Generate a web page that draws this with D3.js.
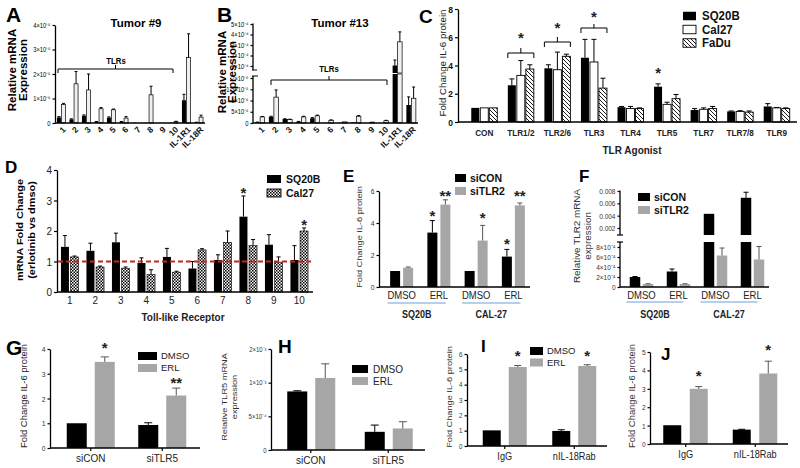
<!DOCTYPE html>
<html><head><meta charset="utf-8">
<script src="https://cdn.jsdelivr.net/npm/d3@7"></script>
<style>body{margin:0;background:#fff}svg{display:block}</style>
</head><body><svg id="c" width="800" height="468"></svg>
<script>
// ---------------- DATA ----------------
const tlrCats = ["1","2","3","4","5","6","7","8","9","10","IL-1R1","IL-18R"];
const aTicks = [0,1e-5,2e-5,3e-5,4e-5];
const aTickLabels = ["0","1×10⁻⁵","2×10⁻⁵","3×10⁻⁵","4×10⁻⁵"];
const aBlack    = [2.3e-6,1.5e-6,3.0e-6,0.5e-6,2.2e-6,0.5e-6,0.1e-6,0.1e-6,0,0.1e-6,9.3e-6,0.2e-6];
const aBlackErr = [0.3e-6,0.2e-6,0.3e-6,0.1e-6,0.3e-6,0.1e-6,0,0,0,0,2.4e-6,0.1e-6];
const aWhite    = [7.5e-6,1.6e-5,1.35e-5,5.8e-6,5.4e-6,2.0e-6,0,1.15e-5,0,0.5e-6,2.67e-5,2.4e-6];
const aWhiteErr = [0.5e-6,5e-6,6.5e-6,0.5e-6,0.3e-6,0.6e-6,0,3.5e-6,0,0.2e-6,9.7e-6,0.8e-6];

const bLowTicks = [0,5e-6,1e-5,1.5e-5,2e-5];
const bLowLabels = ["0","5×10⁻⁶","1×10⁻⁵","1.5×10⁻⁵","2×10⁻⁵"];
const bHighTicks = [1e-4,2e-4,3e-4,4e-4,5e-4];
const bHighLabels = ["1×10⁻⁴","2×10⁻⁴","3×10⁻⁴","4×10⁻⁴","5×10⁻⁴"];
const bBlack    = [0.3e-6,2.8e-6,1.8e-6,0.6e-6,2.1e-6,0.1e-6,0.1e-6,0.3e-6,0,0,1.05e-4,8e-6];
const bBlackErr = [0.1e-6,0.2e-6,0.1e-6,0.1e-6,0.3e-6,0,0,0,0,0,0.52e-4,3.6e-6];
const bWhite    = [2.7e-6,1.15e-5,1.5e-6,2.7e-6,3.2e-6,1.2e-6,0.5e-6,3.0e-6,0.4e-6,1.0e-6,3.3e-4,1.1e-5];
const bWhiteErr = [0.2e-6,3.2e-6,0.2e-6,0.3e-6,0.3e-6,0.2e-6,0,0.3e-6,0,0.2e-6,0.95e-4,5e-6];

const cCats = ["CON","TLR1/2","TLR2/6","TLR3","TLR4","TLR5","TLR7","TLR7/8","TLR9"];
const cTicks = [0,2,4,6,8];
const cSQ20B    = [1,2.6,3.8,4.55,1.05,2.5,0.85,0.75,1.1];
const cSQ20BErr = [0,0.45,0.25,1.3,0.05,0.2,0.1,0.03,0.2];
const cCal27    = [1,3.3,3.7,4.25,0.95,1.25,0.9,0.75,1.0];
const cCal27Err = [0,1.05,1.25,1.6,0.15,0.15,0.1,0.05,0.03];
const cFaDu     = [1,3.75,4.65,2.4,0.95,1.65,0.95,0.7,0.95];
const cFaDuErr  = [0,0.3,0.15,0.7,0.05,0.3,0.15,0.08,0.05];

const dCats = ["1","2","3","4","5","6","7","8","9","10"];
const dTicks = [0,1,2,3,4];
const dSQ20B    = [1.48,1.35,1.63,0.95,1.15,0.77,1.05,2.47,1.55,1.05];
const dSQ20BErr = [0.37,0.25,0.3,0.17,0.28,0.23,0.17,0.68,0.33,0.47];
const dCal27    = [1.15,0.82,0.78,0.57,0.65,1.38,1.63,1.52,0.98,2.0];
const dCal27Err = [0.03,0.03,0.04,0.16,0.03,0.04,0.37,0.2,0.17,0.1];

const eCats = ["DMSO","ERL","DMSO","ERL"];
const eGroups = ["SQ20B","CAL-27"];
const eTicks = [0,2,4,6];
const eSiCON     = [1,3.4,1,1.9];
const eSiCONErr  = [0,0.75,0,0.45];
const eSiTLR2    = [1.2,5.15,2.9,5.1];
const eSiTLR2Err = [0.05,0.3,0.95,0.15];

const fCats = ["DMSO","ERL","DMSO","ERL"];
const fGroups = ["SQ20B","CAL-27"];
const fLowTicks = [0,2e-4,4e-4,6e-4,8e-4];
const fLowLabels = ["0","2×10⁻⁴","4×10⁻⁴","6×10⁻⁴","8×10⁻⁴"];
const fHighTicks = [0.002,0.004,0.006,0.008];
const fHighLabels = ["0.002","0.004","0.006","0.008"];
const fSiCON     = [2.0e-4,3.1e-4,0.0043,0.0069];
const fSiCONErr  = [0.1e-4,0.5e-4,0,0.0009];
const fSiTLR2    = [0.6e-4,0.6e-4,6.3e-4,5.5e-4];
const fSiTLR2Err = [0.05e-4,0.05e-4,1.5e-4,2.6e-4];

const gCats = ["siCON","siTLR5"];
const gTicks = [0,1,2,3,4];
const gDMSO = [1.0,0.93], gDMSOErr = [0,0.09];
const gERL  = [3.48,2.12], gERLErr  = [0.2,0.3];

const hCats = ["siCON","siTLR5"];
const hTicks = [0,5e-4,1e-3,1.5e-3];
const hTickLabels = ["0","5×10⁻⁴","1×10⁻³","2×10⁻³"];
const hDMSO = [0.87e-3,0.27e-3], hDMSOErr = [0.01e-3,0.1e-3];
const hERL  = [1.07e-3,0.32e-3], hERLErr  = [0.21e-3,0.1e-3];

const iCats = ["IgG","nIL-18Rab"];
const iTicks = [0,1,2,3,4,5,6];
const iDMSO = [1.02,0.98], iDMSOErr = [0,0.08];
const iERL  = [5.15,5.22], iERLErr  = [0.1,0.08];

const jCats = ["IgG","nIL-18Rab"];
const jTicks = [0,1,2,3,4,5];
const jDMSO = [1.02,0.78], jDMSOErr = [0,0.02];
const jERL  = [3.0,3.83],  jERLErr  = [0.12,0.67];

// ---------------- HELPERS ----------------
const FONT = "'Liberation Sans', Arial, Helvetica, sans-serif";
const K = 1.15;
const GREY = "#a6a6a6";
const svg = d3.select("#c").attr("font-family", FONT);
const defs = svg.append("defs");
const hp = defs.append("pattern").attr("id","hatch").attr("patternUnits","userSpaceOnUse").attr("width",4).attr("height",4);
hp.append("rect").attr("width",4).attr("height",4).attr("fill","#fff");
hp.append("path").attr("d","M0,0L4,4M-1,3L1,5M3,-1L5,1").attr("stroke","#000").attr("stroke-width",0.9);
const cp = defs.append("pattern").attr("id","check").attr("patternUnits","userSpaceOnUse").attr("width",3).attr("height",3);
cp.append("rect").attr("width",3).attr("height",3).attr("fill","#fff");
cp.append("rect").attr("width",1.5).attr("height",1.5).attr("fill","#000");
cp.append("rect").attr("x",1.5).attr("y",1.5).attr("width",1.5).attr("height",1.5).attr("fill","#000");

function T(x, y, s, o = {}) {
  const k = o.k ?? K;
  const tr = o.rot ? `translate(${x},${y}) rotate(-90) scale(${k},1)` : `translate(${x},${y}) scale(1,${k})`;
  return svg.append("text").attr("transform", tr).attr("text-anchor", o.anchor || "start")
    .attr("font-size", o.size || 10).attr("font-weight", o.bold ? "bold" : "normal")
    .attr("fill", o.fill || "#000").text(s);
}
function squash(sel, k = K) {
  sel.each(function () {
    const t = d3.select(this);
    const x = +t.attr("x") || 0, y = +t.attr("y") || 0;
    t.attr("x", 0).attr("y", 0).attr("transform", `translate(${x},${y}) scale(1,${k})`);
  });
}
function line(x1, y1, x2, y2, o = {}) {
  svg.append("line").attr("x1",x1).attr("y1",y1).attr("x2",x2).attr("y2",y2)
    .attr("stroke", o.color || "#000").attr("stroke-width", o.sw ?? 1.2).attr("stroke-dasharray", o.dash || null);
}
function yAxis(x, y, ticks, labels, o = {}) {
  const g = svg.append("g").attr("transform", `translate(${x},0)`)
    .call(d3.axisLeft(y).tickValues(ticks).tickFormat((d, i) => labels ? labels[i] : d3.format("d")(d))
      .tickSize(o.tick ?? 3).tickSizeOuter(0).tickPadding(o.pad ?? 2));
  g.attr("font-family", FONT).attr("font-size", o.size || 8).attr("font-weight", o.bold ? "bold" : "normal");
  g.selectAll("text").attr("fill", o.fill || "#000");
  g.selectAll("line").attr("stroke", "#000").attr("stroke-width", o.sw ?? 1.2);
  g.select(".domain").attr("stroke", "#000").attr("stroke-width", o.sw ?? 1.3);
  if (o.noDomain) g.select(".domain").remove();
  squash(g.selectAll("text"));
  return g;
}
function xAxis(x, yBase, x0, x1, cats, o = {}) {
  line(x0, yBase, x1, yBase, {sw: o.sw ?? 1.3});
  const g = svg.append("g").attr("transform", `translate(0,${yBase})`)
    .call(d3.axisBottom(x).tickFormat(i => cats[i]).tickSize(o.tick ?? 0).tickPadding(o.pad ?? 3));
  g.select(".domain").remove();
  g.attr("font-family", FONT).attr("font-size", o.size || 9).attr("font-weight", o.bold ? "bold" : "normal");
  g.selectAll("line").attr("stroke", "#000").attr("stroke-width", 1.2);
  g.selectAll("text").attr("fill", o.fill || "#000");
  if (o.rotate) {
    g.selectAll("text").attr("text-anchor", "end").attr("x", 0).attr("y", 0).attr("dy", "0.35em")
      .attr("transform", `translate(${o.rdx},${o.rdy}) rotate(-45)`);
  } else squash(g.selectAll("text"));
  return g;
}
function segs1(y) { return [{y, lo: y.domain()[0], hi: Infinity}]; }
function mapY(segs, v) { let s = segs[0]; for (const sg of segs) if (v > sg.lo) s = sg; return s.y(v); }
function bars(x, segs, s) {
  const bw = x.bandwidth();
  s.vals.forEach((v, i) => {
    const cx = x(i) + bw / 2 + s.dx;
    segs.forEach(sg => {
      if (v > sg.lo) {
        const yb = sg.y(sg.lo), yt = sg.y(Math.min(v, sg.hi));
        svg.append("rect").attr("x", cx - s.w / 2).attr("y", yt).attr("width", s.w).attr("height", Math.max(0.01, yb - yt))
          .attr("fill", s.fill).attr("stroke", s.stroke || "none").attr("stroke-width", s.sw ?? 0.8);
      }
    });
    const e = s.errs[i];
    if (e > 0) {
      const y1 = mapY(segs, v), y2 = mapY(segs, v + e);
      const cap = s.cap ?? s.w * 0.5;
      const col = s.ecol || "#000";
      line(cx, y1, cx, y2, {color: col, sw: 1});
      line(cx - cap / 2, y2, cx + cap / 2, y2, {color: col, sw: 1});
    }
  });
}
function brace(x0, x1, y, drop, up) {
  const xm = (x0 + x1) / 2;
  svg.append("path").attr("d", `M${x0},${y + drop}V${y}H${x1}V${y + drop}M${xm},${y}V${y - up}`)
    .attr("fill", "none").attr("stroke", "#000").attr("stroke-width", 1);
}
function star(x, yc, s, size = 15, fill = "#222") {
  T(x, yc + size * 0.55, s, {size, bold: true, anchor: "middle", k: 1, fill});
}
function legend(x, ys, w, h, items, o) {
  items.forEach((it, i) => {
    svg.append("rect").attr("x", x).attr("y", ys[i] - h / 2).attr("width", w).attr("height", h)
      .attr("fill", it.fill).attr("stroke", it.stroke || "none").attr("stroke-width", 0.9);
    T(x + w + o.gap, ys[i] + o.size * 0.36, it.label, {size: o.size, bold: o.bold, fill: o.fill, k: o.k ?? 1.05});
  });
}
function vlabel(xc, yc, lines, size, bold, gap, fill) {
  lines.forEach((l, i) => T(xc + i * gap + size * 0.35, yc, l, {rot: true, size, bold, anchor: "middle", fill}));
}
function letter(x, y, s, size) { T(x, y, s, {size, bold: true, k: 1}); }

// ---------------- PANEL A ----------------
letter(6, 22, "A", 21);
T(136, 27, "Tumor #9", {size: 11.5, bold: true, anchor: "middle", k: 1});
vlabel(12, 70, ["Relative mRNA", "Expression"], 10, true, 11);
const yA = d3.scaleLinear().domain([0, 4e-5]).range([123, 25]);
const xA = d3.scaleBand().domain(d3.range(tlrCats.length)).range([55, 205]);
yAxis(55, yA, aTicks, aTickLabels, {size: 5.8, tick: 2.5});
bars(xA, segs1(yA), {vals: aBlack, errs: aBlackErr, dx: -2.3, w: 4, fill: "#000", cap: 3});
bars(xA, segs1(yA), {vals: aWhite, errs: aWhiteErr, dx: 2.3, w: 4, fill: "#f0f0f0", stroke: "#000", sw: 0.7, cap: 3});
xAxis(xA, 123, 55, 205, tlrCats, {size: 8.5, bold: true, rotate: true, rdx: 3, rdy: 5, fill: "#111"});
brace(58, 173, 69, 4, 4);
T(116, 64, "TLRs", {size: 7.8, bold: true, anchor: "middle"});

// ---------------- PANEL B ----------------
letter(217, 22, "B", 21);
T(340, 27, "Tumor #13", {size: 11.5, bold: true, anchor: "middle", k: 1});
vlabel(222, 72, ["Relative mRNA", "Expression"], 10, true, 10.5);
const yBl = d3.scaleLinear().domain([0, 2e-5]).range([123, 78]);
const yBu = d3.scaleLinear().domain([1e-4, 5e-4]).range([66, 24]);
yAxis(253, yBl, bLowTicks, bLowLabels, {size: 5.8, tick: 2.5, noDomain: true});
yAxis(253, yBu, bHighTicks, bHighLabels, {size: 5.8, tick: 2.5, noDomain: true});
line(253, 76, 253, 123, {sw: 1.3}); line(253, 23.5, 253, 70, {sw: 1.3});
line(252, 76, 258, 76, {sw: 1}); line(252, 70, 257, 70, {sw: 1});
const xB = d3.scaleBand().domain(d3.range(tlrCats.length)).range([253, 418]);
const segsB = [{y: yBl, lo: 0, hi: yBl.invert(74)}, {y: yBu, lo: yBu.invert(73), hi: Infinity}];
bars(xB, segsB, {vals: bBlack, errs: bBlackErr, dx: -2.5, w: 4.5, fill: "#000", cap: 3});
bars(xB, segsB, {vals: bWhite, errs: bWhiteErr, dx: 2.5, w: 4.5, fill: "#f0f0f0", stroke: "#000", sw: 0.7, cap: 3});
xAxis(xB, 123, 253, 418, tlrCats, {size: 8.5, bold: true, rotate: true, rdx: 3, rdy: 5, fill: "#111"});
brace(271, 387, 80, 5, 4);
T(329, 72, "TLRs", {size: 7.8, bold: true, anchor: "middle"});

// ---------------- PANEL C ----------------
letter(419, 23, "C", 19);
vlabel(443.5, 63, ["Fold Change IL-6 protein"], 8.4, false, 0, "#222");
const yC = d3.scaleLinear().domain([0, 8]).range([122, 9]);
const xC = d3.scaleBand().domain(d3.range(cCats.length)).range([466, 795]);
yAxis(458, yC, cTicks, null, {size: 8.5, bold: true, fill: "#111"});
bars(xC, segs1(yC), {vals: cSQ20B, errs: cSQ20BErr, dx: -9, w: 8, fill: "#000", cap: 5});
bars(xC, segs1(yC), {vals: cCal27, errs: cCal27Err, dx: 0, w: 8, fill: "#fff", stroke: "#000", sw: 0.9, cap: 5});
bars(xC, segs1(yC), {vals: cFaDu, errs: cFaDuErr, dx: 9, w: 8, fill: "url(#hatch)", stroke: "#000", sw: 0.9, cap: 5});
xAxis(xC, 122, 458, 797, cCats, {size: 8.2, bold: true, pad: 7, fill: "#222"});
T(632, 154, "TLR Agonist", {size: 10, bold: true, anchor: "middle", fill: "#222"});
{
  const cc = i => xC(i) + xC.bandwidth() / 2;
  brace(cc(1) - 13, cc(1) + 13, 53, 5, 5); star(cc(1), 35, "*");
  brace(cc(2) - 13, cc(2) + 13, 42, 5, 5); star(cc(2), 25, "*");
  brace(cc(3) - 13, cc(3) + 13, 28, 5, 4); star(cc(3), 14, "*");
  star(cc(5) - 9, 70, "*");
}
legend(683, [16, 29.5, 43], 13, 8.5, [
  {fill: "#000", label: "SQ20B"}, {fill: "#fff", stroke: "#000", label: "Cal27"}, {fill: "url(#hatch)", stroke: "#000", label: "FaDu"}
], {size: 11.5, bold: true, gap: 6, fill: "#111", k: 1.1});

// ---------------- PANEL D ----------------
letter(5, 173, "D", 17);
vlabel(20, 230, ["mRNA Fold Change", "(erlotinib vs dmso)"], 9.5, true, 12);
const yD = d3.scaleLinear().domain([0, 4]).range([292, 170]);
const xD = d3.scaleBand().domain(d3.range(dCats.length)).range([57, 312]);
yAxis(57, yD, dTicks, null, {size: 10, fill: "#222"});
bars(xD, segs1(yD), {vals: dSQ20B, errs: dSQ20BErr, dx: -4.8, w: 8, fill: "#000", cap: 4});
bars(xD, segs1(yD), {vals: dCal27, errs: dCal27Err, dx: 4.8, w: 8, fill: "url(#check)", stroke: "#000", sw: 0.6, cap: 4});
xAxis(xD, 292, 57, 313, dCats, {size: 10, pad: 4, fill: "#222"});
line(58, yD(1), 313, yD(1), {color: "#c0282d", sw: 1.8, dash: "5,3"});
T(183, 321, "Toll-like Receptor", {size: 10, bold: true, anchor: "middle", fill: "#222"});
{
  const cc = i => xD(i) + xD.bandwidth() / 2;
  star(cc(7) - 4.8, 190, "*"); star(cc(9) + 4.8, 222, "*");
}
legend(267, [179, 193], 14, 8, [
  {fill: "#000", label: "SQ20B"}, {fill: "url(#check)", stroke: "#000", label: "Cal27"}
], {size: 10.5, bold: true, gap: 5, fill: "#111"});

// ---------------- PANEL E ----------------
letter(343, 182, "E", 17);
vlabel(359, 237, ["Fold Change IL-6 protein"], 8, false, 0, "#333");
const yE = d3.scaleLinear().domain([0, 6]).range([287, 191]);
const xE = d3.scaleBand().domain(d3.range(eCats.length)).range([383, 532]);
yAxis(379, yE, eTicks, null, {size: 6.8, fill: "#333", tick: 2.5});
bars(xE, segs1(yE), {vals: eSiCON, errs: eSiCONErr, dx: -6.5, w: 10, fill: "#000", cap: 5});
bars(xE, segs1(yE), {vals: eSiTLR2, errs: eSiTLR2Err, dx: 6.5, w: 10, fill: GREY, cap: 5, ecol: "#555"});
xAxis(xE, 287, 379, 530, eCats, {size: 9.5, pad: 4, fill: "#222"});
{
  const cc = i => xE(i) + xE.bandwidth() / 2;
  [0, 1].forEach(gI => {
    const a = cc(gI * 2) - 14, b = cc(gI * 2 + 1) + 7;
    line(a, 303, b, 303, {color: "#6f9fe0", sw: 1.2});
    T((a + b) / 2, 318, eGroups[gI], {size: 9, bold: true, anchor: "middle", fill: "#222"});
  });
  star(cc(1) - 6.5, 213, "*"); star(cc(1) + 6.5, 193, "**");
  star(cc(2) + 6.5, 215, "*");
  star(cc(3) - 6.5, 241, "*"); star(cc(3) + 6.5, 193, "**");
}
legend(455, [178, 191], 11, 8, [
  {fill: "#000", label: "siCON"}, {fill: GREY, label: "siTLR2"}
], {size: 10.5, bold: true, gap: 4, fill: "#111"});

// ---------------- PANEL F ----------------
letter(579, 182, "F", 17);
vlabel(577, 236, ["Relative TLR2 mRNA", "expression"], 8.6, false, 11, "#333");
const yFl = d3.scaleLinear().domain([0, 8e-4]).range([287, 247]);
const yFu = d3.scaleLinear().domain([0.002, 0.008]).range([228, 191]);
yAxis(620, yFl, fLowTicks, fLowLabels, {size: 6.5, fill: "#333", tick: 2.5, noDomain: true});
yAxis(620, yFu, fHighTicks, fHighLabels, {size: 6.5, fill: "#333", tick: 2.5, noDomain: true});
line(620, 242, 620, 287, {sw: 1.3}); line(620, 190.5, 620, 235, {sw: 1.3});
line(617, 242, 623, 242, {sw: 1.2}); line(617, 235, 623, 235, {sw: 1.2});
const xF = d3.scaleBand().domain(d3.range(fCats.length)).range([623, 771]);
const segsF = [{y: yFl, lo: 0, hi: yFl.invert(242)}, {y: yFu, lo: yFu.invert(235), hi: Infinity}];
bars(xF, segsF, {vals: fSiCON, errs: fSiCONErr, dx: -6.5, w: 10.5, fill: "#000", cap: 5});
bars(xF, segsF, {vals: fSiTLR2, errs: fSiTLR2Err, dx: 6.5, w: 10.5, fill: GREY, cap: 5, ecol: "#555"});
xAxis(xF, 287, 620, 769, fCats, {size: 9.5, pad: 4, fill: "#222"});
{
  const cc = i => xF(i) + xF.bandwidth() / 2;
  [0, 1].forEach(gI => {
    const a = cc(gI * 2) - 15, b = cc(gI * 2 + 1) + 5;
    line(a, 302, b, 302, {color: "#6f9fe0", sw: 1.2});
    T((a + b) / 2, 318, fGroups[gI], {size: 9, bold: true, anchor: "middle", fill: "#222"});
  });
}
legend(638, [197, 210], 12, 8, [
  {fill: "#000", label: "siCON"}, {fill: GREY, label: "siTLR2"}
], {size: 10.5, bold: true, gap: 4, fill: "#111"});

// ---------------- PANEL G ----------------
letter(6, 355, "G", 21);
vlabel(24, 396, ["Fold Change IL-6 protein"], 8.2, false, 0, "#222");
const yG = d3.scaleLinear().domain([0, 4]).range([448, 349]);
const xG = d3.scaleBand().domain(d3.range(gCats.length)).range([55, 198]);
yAxis(50, yG, gTicks, null, {size: 6.8, fill: "#333", tick: 2.5});
bars(xG, segs1(yG), {vals: gDMSO, errs: gDMSOErr, dx: -14, w: 20, fill: "#000", cap: 8});
bars(xG, segs1(yG), {vals: gERL, errs: gERLErr, dx: 14, w: 20, fill: GREY, cap: 8, ecol: "#555"});
xAxis(xG, 448, 50, 200, gCats, {size: 10, pad: 3, tick: 3, fill: "#222"});
{
  const cc = i => xG(i) + xG.bandwidth() / 2;
  star(cc(0) + 14, 345, "*"); star(cc(1) + 14, 380, "**");
}
legend(138, [356, 368], 19, 8, [
  {fill: "#000", label: "DMSO"}, {fill: GREY, label: "ERL"}
], {size: 9.5, bold: false, gap: 4, fill: "#222"});

// ---------------- PANEL H ----------------
letter(278, 353, "H", 19);
vlabel(224, 397, ["Relative TLR5 mRNA", "expression"], 8, false, 10, "#333");
const yH = d3.scaleLinear().domain([0, 1.5e-3]).range([450, 349]);
const xH = d3.scaleBand().domain(d3.range(hCats.length)).range([272, 427]);
yAxis(271, yH, hTicks, hTickLabels, {size: 6, fill: "#333", tick: 2.5});
bars(xH, segs1(yH), {vals: hDMSO, errs: hDMSOErr, dx: -13.5, w: 20, fill: "#000", cap: 8});
bars(xH, segs1(yH), {vals: hERL, errs: hERLErr, dx: 14.5, w: 20, fill: GREY, cap: 8, ecol: "#555"});
xAxis(xH, 450, 271, 425, hCats, {size: 10, pad: 3, tick: 3, fill: "#222"});
legend(352, [369, 381], 16, 8, [
  {fill: "#000", label: "DMSO"}, {fill: GREY, label: "ERL"}
], {size: 10, bold: false, gap: 5, fill: "#222"});

// ---------------- PANEL I ----------------
letter(481, 352, "I", 17);
vlabel(449, 397, ["Fold Change IL-6 protein"], 8, false, 0, "#333");
const yI = d3.scaleLinear().domain([0, 6]).range([446, 354]);
const xI = d3.scaleBand().domain(d3.range(iCats.length)).range([470, 609]);
yAxis(467, yI, iTicks, null, {size: 6.2, fill: "#333", tick: 2.5});
bars(xI, segs1(yI), {vals: iDMSO, errs: iDMSOErr, dx: -13, w: 18, fill: "#000", cap: 7});
bars(xI, segs1(yI), {vals: iERL, errs: iERLErr, dx: 13, w: 18, fill: GREY, cap: 7, ecol: "#555"});
xAxis(xI, 446, 467, 607, iCats, {size: 9.2, pad: 3, tick: 3, fill: "#222"});
{
  const cc = i => xI(i) + xI.bandwidth() / 2;
  star(cc(0) + 13, 353, "*"); star(cc(1) + 13, 353, "*");
}
legend(530, [351, 362.5], 13, 8, [
  {fill: "#000", label: "DMSO"}, {fill: GREY, label: "ERL"}
], {size: 9.5, bold: false, gap: 4, fill: "#222"});

// ---------------- PANEL J ----------------
letter(661, 360, "J", 17);
vlabel(632, 396, ["Fold Change IL-6 protein"], 8.2, false, 0, "#333");
const yJ = d3.scaleLinear().domain([0, 5]).range([444, 352]);
const xJ = d3.scaleBand().domain(d3.range(jCats.length)).range([651, 790]);
yAxis(650, yJ, jTicks, null, {size: 6.5, fill: "#333", tick: 2.5});
bars(xJ, segs1(yJ), {vals: jDMSO, errs: jDMSOErr, dx: -13.5, w: 18, fill: "#000", cap: 7});
bars(xJ, segs1(yJ), {vals: jERL, errs: jERLErr, dx: 13, w: 18, fill: GREY, cap: 7, ecol: "#555"});
xAxis(xJ, 444, 650, 788, jCats, {size: 9.2, pad: 3, tick: 3, fill: "#222"});
{
  const cc = i => xJ(i) + xJ.bandwidth() / 2;
  star(cc(0) + 13, 373, "*"); star(cc(1) + 13, 347, "*");
}
</script></body></html>
